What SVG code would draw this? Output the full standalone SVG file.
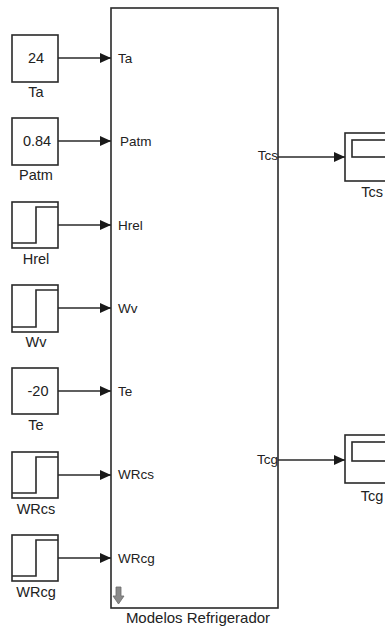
<svg xmlns="http://www.w3.org/2000/svg" width="385" height="630" viewBox="0 0 385 630">
<style>
.blk{fill:#fff;stroke:#2a2a2a;stroke-width:1.6}
.ln{fill:none;stroke:#2a2a2a;stroke-width:1.6}
.t{font-family:"Liberation Sans",Arial,sans-serif;font-size:14.5px;fill:#222}
.p{font-family:"Liberation Sans",Arial,sans-serif;font-size:13.5px;fill:#222}
.m{font-family:"Liberation Sans",Arial,sans-serif;font-size:15px;fill:#222}
.c{text-anchor:middle}
.e{text-anchor:end}
</style>
<defs>
<marker id="ah" markerWidth="11" markerHeight="10" refX="11" refY="5" orient="auto" markerUnits="userSpaceOnUse">
<path d="M0,0 L11,5 L0,10 Z" fill="#1a1a1a"/>
</marker>
</defs>
<g id="main">
<rect class="blk" x="111" y="8" width="167" height="600"/>
<text class="p" x="118" y="63">Ta</text>
<text class="p" x="120" y="146">Patm</text>
<text class="p" x="118" y="230">Hrel</text>
<text class="p" x="118" y="313">Wv</text>
<text class="p" x="118" y="396">Te</text>
<text class="p" x="118" y="479">WRcs</text>
<text class="p" x="118" y="563">WRcg</text>
<text class="p e" x="278" y="160">Tcs</text>
<text class="p e" x="278" y="464">Tcg</text>
<path d="M116,587 h5 v9 h3 l-5.5,8 l-5.5,-8 h3 z" fill="#8a8a8a" stroke="#6a6a6a" stroke-width="0.8"/>
<text class="m c" x="198" y="623">Modelos Refrigerador</text>
</g>
<g id="Ta">
<rect class="blk" x="12" y="35" width="46" height="47"/>
<text class="t c" x="36" y="63">24</text>
<text class="t c" x="36" y="97">Ta</text>
</g>
<g id="Patm">
<rect class="blk" x="12" y="118" width="46" height="47"/>
<text class="t c" x="37" y="146">0.84</text>
<text class="t c" x="36" y="180">Patm</text>
</g>
<g id="Hrel">
<rect class="blk" x="12" y="202" width="46" height="46"/>
<polyline class="ln" points="12,243 36,243 36,207 58,207"/>
<text class="t c" x="36" y="264">Hrel</text>
</g>
<g id="Wv">
<rect class="blk" x="12" y="285" width="46" height="47"/>
<polyline class="ln" points="12,327 36,327 36,290 58,290"/>
<text class="t c" x="36" y="347">Wv</text>
</g>
<g id="Te">
<rect class="blk" x="12" y="368" width="46" height="46"/>
<text class="t c" x="38" y="396">-20</text>
<text class="t c" x="36" y="430">Te</text>
</g>
<g id="WRcs">
<rect class="blk" x="12" y="452" width="46" height="46"/>
<polyline class="ln" points="12,493 36,493 36,457 58,457"/>
<text class="t c" x="36" y="514">WRcs</text>
</g>
<g id="WRcg">
<rect class="blk" x="12" y="535" width="46" height="46"/>
<polyline class="ln" points="12,576 36,576 36,540 58,540"/>
<text class="t c" x="36" y="597">WRcg</text>
</g>
<g id="TcsScope">
<rect class="blk" x="345" y="133" width="50" height="48"/>
<rect class="blk" x="352" y="140" width="40" height="17"/>
<text class="t c" x="372" y="197">Tcs</text>
</g>
<g id="TcgScope">
<rect class="blk" x="345" y="435" width="50" height="48"/>
<rect class="blk" x="352" y="442" width="40" height="19"/>
<text class="t c" x="372" y="501">Tcg</text>
</g>
<g id="connectors">
<line class="ln" x1="58" y1="58" x2="111" y2="58" marker-end="url(#ah)"/>
<line class="ln" x1="58" y1="141" x2="111" y2="141" marker-end="url(#ah)"/>
<line class="ln" x1="58" y1="225" x2="111" y2="225" marker-end="url(#ah)"/>
<line class="ln" x1="58" y1="308" x2="111" y2="308" marker-end="url(#ah)"/>
<line class="ln" x1="58" y1="391" x2="111" y2="391" marker-end="url(#ah)"/>
<line class="ln" x1="58" y1="475" x2="111" y2="475" marker-end="url(#ah)"/>
<line class="ln" x1="58" y1="558" x2="111" y2="558" marker-end="url(#ah)"/>
<line class="ln" x1="278" y1="157" x2="345" y2="157" marker-end="url(#ah)"/>
<line class="ln" x1="278" y1="460" x2="345" y2="460" marker-end="url(#ah)"/>
</g>
</svg>
